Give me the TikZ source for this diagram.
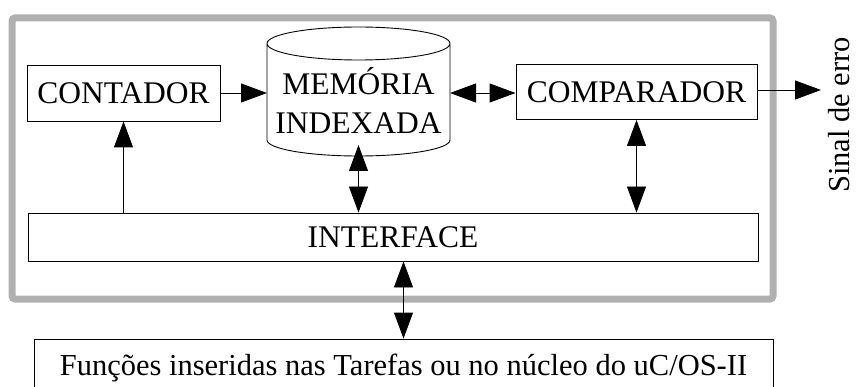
\documentclass[tikz,border=0pt]{standalone}
\usepackage{fontspec}
\setmainfont{Liberation Serif}
\usetikzlibrary{arrows.meta}

\begin{document}
\begin{tikzpicture}[x=1pt,y=1pt,
    box/.style={draw,line width=0.9pt,inner sep=0pt,font=\fontsize{31.5}{39}\selectfont},
    lbl/.style={inner sep=0pt,align=center,font=\fontsize{31.5}{39}\selectfont},
    seta/.style={line width=0.9pt,-{Triangle[length=26pt,width=19pt]}},
    setas/.style={line width=0.9pt,{Triangle[length=26pt,width=19pt]}-{Triangle[length=26pt,width=19pt]}}]
    \useasboundingbox (0,0) rectangle (856,-387);
    \draw[black!31,line width=7pt,rounded corners=3pt] (12,-18) rectangle (773,-299);
    \node[box,minimum width=193pt,minimum height=56pt] (cont) at (123.5,-93) {CONTADOR};
    \node[box,minimum width=241pt,minimum height=55pt] (comp) at (636.5,-92) {COMPARADOR};
    \node[box,minimum width=730pt,minimum height=48pt] (inter) at (393,-237) {INTERFACE};
    \node[box,minimum width=739pt,minimum height=58pt,font=\fontsize{30.5}{37}\selectfont] (func) at (403.5,-368) {Funções inseridas nas Tarefas ou no núcleo do uC/OS-II};
    % memoria indexada
    \draw[line width=0.9pt] (267,-43.5) -- (267,-140) arc[start angle=180,end angle=360,x radius=91.5,y radius=16]
      -- (450,-43.5) arc[start angle=0,end angle=360,x radius=91.5,y radius=16.5];
    \node[lbl] (mem) at (358.5,-101) {MEMÓRIA\\INDEXADA};
    \node[lbl,rotate=90,font=\fontsize{30.5}{37}\selectfont] (sinal) at (839,-115) {Sinal de erro};
    \coordinate (memL) at (267,-93);
    \coordinate (memR) at (450,-93);
    \coordinate (memB) at (358.5,-145);
    \coordinate (erro) at (821,-90);
    % setas
    \draw[seta] (cont.east) -- (memL);
    \draw[setas] (memR) -- (comp.west |- memR);
    \draw[seta] (comp.east |- erro) -- (erro);
    \draw[setas] (memB) -- (memB |- inter.north);
    \draw[setas] (comp.south) -- (comp.south |- inter.north);
    \draw[seta] (inter.north -| cont.south) -- (cont.south);
    \draw[setas] (inter.south -| func.north) -- (func.north);
\end{tikzpicture}
\end{document}
